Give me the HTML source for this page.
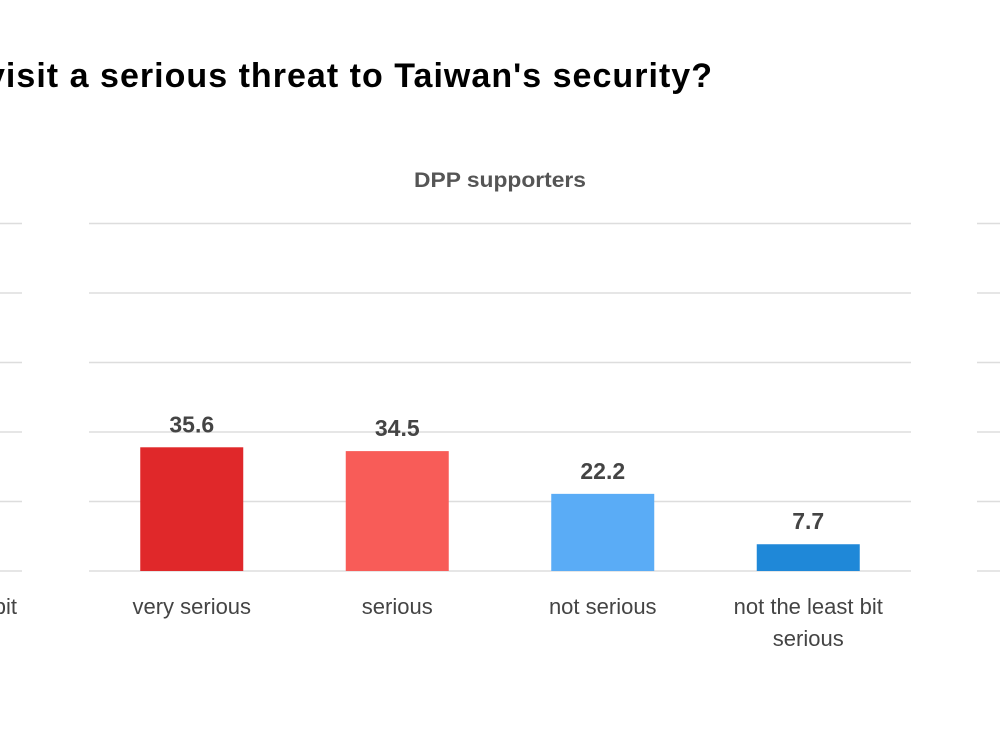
<!DOCTYPE html>
<html><head><meta charset="utf-8"><style>
html,body{margin:0;padding:0;background:#fff;width:1000px;height:750px;overflow:hidden}
svg{display:block}
text{font-family:"Liberation Sans",sans-serif}
</style></head><body>
<svg id="c" width="1000" height="750">
<text x="-14" y="87" font-size="34" font-weight="bold" fill="#000" textLength="726" lengthAdjust="spacing">visit a serious threat to Taiwan's security?</text>
<text x="500" y="187" text-anchor="middle" font-size="21" font-weight="bold" fill="#555" textLength="172" lengthAdjust="spacingAndGlyphs">DPP supporters</text>
<g id="grid"></g>
<g id="bars"></g>
<text x="17" y="614" text-anchor="end" font-size="22" fill="#444">not the least bit</text>
</svg>
<script>
const categories=["very serious","serious","not serious","not the least bit serious"];
const values=[35.6,34.5,22.2,7.7];
const colors=["#e0282a","#f85c58","#5aacf6","#1f88d8"];
const ticks=[0,20,40,60,80,100];
const NS="http://www.w3.org/2000/svg";
const base=571,top0=223.5,x0=89,x1=911;
function y(v){return base-(base-top0)*v/100;}
const band=(x1-x0)/categories.length;
function xc(i){return x0+band*(i+0.5);}
const grid=document.getElementById('grid'),bars=document.getElementById('bars');
function mk(t,a,p){const e=document.createElementNS(NS,t);for(const k in a)e.setAttribute(k,a[k]);p.appendChild(e);return e;}
ticks.forEach(t=>{
  [[0,22],[x0,x1],[977,1000]].forEach(r=>{
    const l=mk('line',{x1:r[0],x2:r[1],y1:y(t),y2:y(t),stroke:'#ddd','stroke-width':1.5},grid);
    
    
  });
});
values.forEach((v,i)=>{
  const w=103,cx=xc(i);
  const r=mk('rect',{x:cx-w/2,y:y(v),width:w,height:base-y(v),fill:colors[i]},bars);
  
  
  const t=mk('text',{x:cx,y:y(v)-15,'text-anchor':'middle','font-size':23,'font-weight':'bold',fill:'#444'},bars);
  t.textContent=v.toFixed(1);
  
  
  const words=categories[i].length>14?["not the least bit","serious"]:[categories[i]];
  words.forEach((s,j)=>{
    const c=mk('text',{x:cx,y:614+j*32,'text-anchor':'middle','font-size':22,fill:'#444'},bars);
    c.textContent=s;
    
    
  });
});
</script>
</body></html>
